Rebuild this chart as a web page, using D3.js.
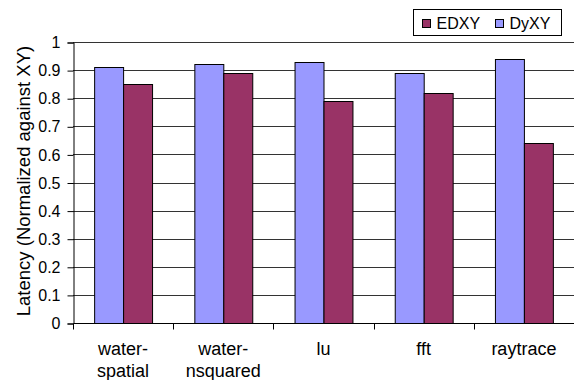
<!DOCTYPE html>
<html>
<head>
<meta charset="utf-8">
<script src="https://cdn.jsdelivr.net/npm/d3@7"></script>
<style>
  html, body { margin: 0; padding: 0; background: #fff; }
  svg { display: block; font-family: "Liberation Sans", Arial, sans-serif; }
</style>
</head>
<body>
<svg id="chart" width="574" height="380"></svg>
<script>
// Benchmarks and normalized latency per routing scheme
const categories = [["water-", "spatial"], ["water-", "nsquared"], ["lu"], ["fft"], ["raytrace"]];
const seriesNames = ["DyXY", "EDXY"];
const dyxyValues = [0.91, 0.92, 0.93, 0.89, 0.94];
const edxyValues = [0.85, 0.89, 0.79, 0.82, 0.64];
const yTicks = [0, 0.1, 0.2, 0.3, 0.4, 0.5, 0.6, 0.7, 0.8, 0.9, 1];
const legendOrder = ["EDXY", "DyXY"];

const colors = { DyXY: "#9999FF", EDXY: "#993366" };
const seriesValues = { DyXY: dyxyValues, EDXY: edxyValues };

const svg = d3.select("#chart");
const margin = { left: 73, right: 0, top: 42, bottom: 57 };
const W = 574, H = 380;

const keys = categories.map(c => c.join(""));
const x = d3.scaleBand().domain(keys).range([margin.left, W - margin.right]).paddingInner(0).paddingOuter(0);
const xs = d3.scaleBand().domain(seriesNames).range([0, x.bandwidth()]).paddingInner(0).paddingOuter(0.73);
const y = d3.scaleLinear().domain([0, 1]).range([H - margin.bottom, margin.top]);

// horizontal gridlines
svg.append("g")
  .selectAll("line")
  .data(yTicks.filter(t => t > 0))
  .join("line")
  .attr("x1", margin.left).attr("x2", W - margin.right)
  .attr("y1", d => Math.round(y(d)) + 0.5).attr("y2", d => Math.round(y(d)) + 0.5)
  .attr("stroke", "#333").attr("stroke-width", 1);

// bars
const groups = svg.append("g").selectAll("g")
  .data(keys)
  .join("g")
  .attr("transform", d => `translate(${x(d)},0)`);

groups.selectAll("rect")
  .data((d, i) => seriesNames.map(s => ({ s, v: seriesValues[s][i] })))
  .join("rect")
  .attr("x", d => xs(d.s) + 0.5)
  .attr("y", d => Math.round(y(d.v)) + 0.5)
  .attr("width", xs.bandwidth())
  .attr("height", d => y(0) - Math.round(y(d.v)))
  .attr("fill", d => colors[d.s])
  .attr("stroke", "#000").attr("stroke-width", 1);

// y axis
const yAxis = d3.axisLeft(y).tickValues(yTicks).tickSize(6).tickPadding(7)
  .tickFormat(d => d3.format("")(Math.round(d * 10) / 10));
const gy = svg.append("g").attr("transform", `translate(${margin.left + 0.5},0.5)`).call(yAxis);
gy.select(".domain").attr("stroke", "#000");
gy.selectAll(".tick line").attr("stroke", "#000");
gy.selectAll(".tick text").attr("font-size", 16).attr("fill", "#000")
  .attr("font-family", "Liberation Sans, Arial, sans-serif");

// x axis
const xAxis = d3.axisBottom(x).tickSize(0).tickFormat("");
const gx = svg.append("g").attr("transform", `translate(0.5,${Math.round(y(0)) + 0.5})`).call(xAxis);
gx.select(".domain").attr("stroke", "#000").attr("d", `M${margin.left},0H${W}`);
// category separator ticks
gx.selectAll(".sep")
  .data(keys.slice(1))
  .join("line")
  .attr("class", "sep")
  .attr("x1", d => Math.round(x(d))).attr("x2", d => Math.round(x(d)))
  .attr("y1", 0).attr("y2", 6)
  .attr("stroke", "#000");
gx.append("line").attr("x1", margin.left).attr("x2", margin.left).attr("y1", 0).attr("y2", 6).attr("stroke", "#000");

// category labels
const labels = svg.append("g").selectAll("text")
  .data(categories)
  .join("text")
  .attr("x", (d, i) => x(keys[i]) + x.bandwidth() / 2)
  .attr("y", 355)
  .attr("text-anchor", "middle")
  .attr("font-size", 18)
  .attr("fill", "#000");
labels.selectAll("tspan")
  .data(d => d)
  .join("tspan")
  .attr("x", function () { return d3.select(this.parentNode).attr("x"); })
  .attr("dy", (d, i) => i === 0 ? 0 : 22)
  .text(d => d);

// y axis title
svg.append("text")
  .attr("transform", `translate(30,181) rotate(-90)`)
  .attr("text-anchor", "middle")
  .attr("font-size", 18.5)
  .attr("fill", "#000")
  .text("Latency (Normalized against XY)");

// legend
const legend = svg.append("g").attr("transform", "translate(413.5,9.5)");
legend.append("rect").attr("width", 148).attr("height", 26)
  .attr("fill", "#fff").attr("stroke", "#000");
const items = legend.selectAll("g.item")
  .data(legendOrder)
  .join("g")
  .attr("class", "item")
  .attr("transform", (d, i) => `translate(${9 + i * 73},0)`);
items.append("rect")
  .attr("x", 0).attr("y", 10).attr("width", 8).attr("height", 8)
  .attr("fill", d => colors[d]).attr("stroke", "#000");
items.append("text")
  .attr("x", 14).attr("y", 19)
  .attr("font-size", 16)
  .attr("fill", "#000")
  .text(d => d);
</script>
</body>
</html>
